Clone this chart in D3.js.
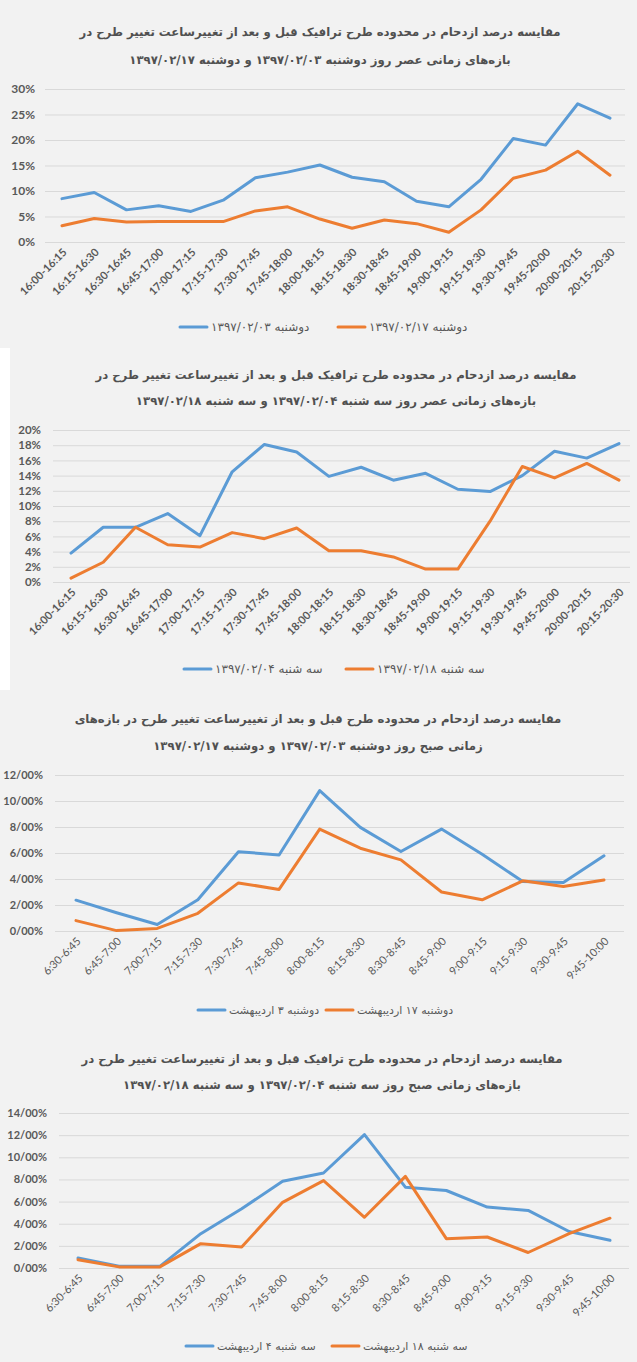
<!DOCTYPE html>
<html lang="fa">
<head>
<meta charset="utf-8">
<title>مقایسه درصد ازدحام</title>
<script src="https://cdn.jsdelivr.net/npm/d3@7"></script>
<style>
  html, body { margin: 0; padding: 0; background: #f2f2f2; }
  svg { display: block; }
  .title { font-family: "DejaVu Sans", sans-serif; font-weight: bold; font-size: 11.7px; fill: #505050; }
  .grid line { stroke: #d9d9d9; stroke-width: 1; }
  .ylab { font-family: Lato, "Open Sans", sans-serif; font-weight: bold; fill: #595959; }
  .xlab { font-family: Lato, "Open Sans", sans-serif; fill: #595959; }
  .legend text { font-family: "DejaVu Sans", sans-serif; fill: #595959; }
  .series { fill: none; stroke-width: 3; stroke-linejoin: round; stroke-linecap: round; }
</style>
</head>
<body>
<svg id="chart" width="637" height="1362"></svg>
<script>
// ---- data (percent values) ----
const eveningSlots = [
  "16:00-16:15", "16:15-16:30", "16:30-16:45", "16:45-17:00", "17:00-17:15", "17:15-17:30",
  "17:30-17:45", "17:45-18:00", "18:00-18:15", "18:15-18:30", "18:30-18:45", "18:45-19:00",
  "19:00-19:15", "19:15-19:30", "19:30-19:45", "19:45-20:00", "20:00-20:15", "20:15-20:30"
];
const morningSlots = [
  "6:30-6:45", "6:45-7:00", "7:00-7:15", "7:15-7:30", "7:30-7:45", "7:45-8:00", "8:00-8:15",
  "8:15-8:30", "8:30-8:45", "8:45-9:00", "9:00-9:15", "9:15-9:30", "9:30-9:45", "9:45-10:00"
];

const monEveningBefore = [8.5, 9.7, 6.3, 7.1, 6.0, 8.2, 12.6, 13.7, 15.1, 12.7, 11.8, 8.0, 6.9, 12.3, 20.3, 19.0, 27.1, 24.3];
const monEveningAfter = [3.2, 4.6, 3.9, 4.0, 4.0, 4.0, 6.1, 6.9, 4.5, 2.7, 4.3, 3.6, 1.9, 6.3, 12.5, 14.1, 17.8, 13.1];
const tueEveningBefore = [3.8, 7.2, 7.2, 9.0, 6.1, 14.5, 18.1, 17.1, 13.9, 15.1, 13.4, 14.3, 12.2, 11.9, 14.0, 17.2, 16.3, 18.2];
const tueEveningAfter = [0.5, 2.6, 7.2, 4.9, 4.6, 6.5, 5.7, 7.1, 4.1, 4.1, 3.3, 1.7, 1.7, 8.0, 15.2, 13.7, 15.6, 13.4];
const monMorningBefore = [2.37, 1.4, 0.5, 2.4, 6.1, 5.85, 10.8, 7.97, 6.12, 7.84, 5.9, 3.8, 3.73, 5.78];
const monMorningAfter = [0.8, 0.03, 0.2, 1.36, 3.7, 3.2, 7.84, 6.37, 5.47, 3.0, 2.4, 3.86, 3.42, 3.93];
const tueMorningBefore = [0.9, 0.15, 0.15, 3.1, 5.36, 7.83, 8.58, 12.05, 7.3, 7.0, 5.5, 5.2, 3.3, 2.5];
const tueMorningAfter = [0.75, 0.1, 0.1, 2.2, 1.9, 5.93, 7.89, 4.58, 8.28, 2.65, 2.8, 1.4, 3.1, 4.5];

const ticksMonEvening = [0, 5, 10, 15, 20, 25, 30];
const ticksTueEvening = [0, 2, 4, 6, 8, 10, 12, 14, 16, 18, 20];
const ticksMonMorning = [0, 2, 4, 6, 8, 10, 12];
const ticksTueMorning = [0, 2, 4, 6, 8, 10, 12, 14];

const titleMonEvening = [
  "مقایسه درصد ازدحام در محدوده طرح ترافیک قبل و بعد از تغییرساعت تغییر طرح در",
  "بازه‌های زمانی عصر روز دوشنبه ۱۳۹۷/۰۲/۰۳ و دوشنبه ۱۳۹۷/۰۲/۱۷"
];
const titleTueEvening = [
  "مقایسه درصد ازدحام در محدوده طرح ترافیک قبل و بعد از تغییرساعت تغییر طرح در",
  "بازه‌های زمانی عصر روز سه شنبه ۱۳۹۷/۰۲/۰۴ و سه شنبه ۱۳۹۷/۰۲/۱۸"
];
const titleMonMorning = [
  "مقایسه درصد ازدحام در محدوده طرح قبل و بعد از تغییرساعت تغییر طرح در بازه‌های",
  "زمانی صبح روز دوشنبه ۱۳۹۷/۰۲/۰۳ و دوشنبه  ۱۳۹۷/۰۲/۱۷"
];
const titleTueMorning = [
  "مقایسه درصد ازدحام در محدوده طرح ترافیک قبل و بعد از تغییرساعت تغییر طرح در",
  "بازه‌های زمانی صبح روز سه شنبه ۱۳۹۷/۰۲/۰۴ و سه شنبه ۱۳۹۷/۰۲/۱۸"
];

const legendMonEvening = ["دوشنبه ۱۳۹۷/۰۲/۰۳", "دوشنبه ۱۳۹۷/۰۲/۱۷"];
const legendTueEvening = ["سه شنبه ۱۳۹۷/۰۲/۰۴", "سه شنبه ۱۳۹۷/۰۲/۱۸"];
const legendMonMorning = ["دوشنبه ۳ اردیبهشت", "دوشنبه ۱۷ اردیبهشت"];
const legendTueMorning = ["سه شنبه ۴ اردیبهشت", "سه شنبه ۱۸ اردیبهشت"];

const seriesColors = ["#5b9bd5", "#ed7d31"];

// ---- layout of the four stacked panels ----
const panels = [
  {
    title: titleMonEvening, slots: eveningSlots, series: [monEveningBefore, monEveningAfter],
    legend: legendMonEvening, ticks: ticksMonEvening, fmt: (d) => d + "%",
    titleY: [32, 60], titleX: 320, yTop: 89, yBottom: 242, labelX: 35,
    grid: [45, 625], points: [62, 610], legendY: 327, swatches: [180, 338],
    yFont: 12, xFont: 11, xBold: true, legendFont: 12
  },
  {
    title: titleTueEvening, slots: eveningSlots, series: [tueEveningBefore, tueEveningAfter],
    legend: legendTueEvening, ticks: ticksTueEvening, fmt: (d) => d + "%",
    titleY: [375, 401], titleX: 336, yTop: 430, yBottom: 582, labelX: 41,
    grid: [53, 630], points: [71, 619], legendY: 669, swatches: [184, 346],
    yFont: 11.5, xFont: 11, xBold: true, legendFont: 12
  },
  {
    title: titleMonMorning, slots: morningSlots, series: [monMorningBefore, monMorningAfter],
    legend: legendMonMorning, ticks: ticksMonMorning, fmt: (d) => d + "/00%",
    titleY: [719, 746], titleX: 318, yTop: 775, yBottom: 931, labelX: 43,
    grid: [55, 624], points: [76, 604], legendY: 1010, swatches: [198, 326],
    yFont: 11, xFont: 11, xBold: false, legendFont: 11
  },
  {
    title: titleTueMorning, slots: morningSlots, series: [tueMorningBefore, tueMorningAfter],
    legend: legendTueMorning, ticks: ticksTueMorning, fmt: (d) => d + "/00%",
    titleY: [1059, 1085], titleX: 322, yTop: 1113, yBottom: 1268, labelX: 47,
    grid: [59, 629], points: [78, 610], legendY: 1346, swatches: [186, 332],
    yFont: 11, xFont: 11, xBold: false, legendFont: 11
  }
];

const svg = d3.select("#chart");

svg.append("rect").attr("width", 637).attr("height", 1362).attr("fill", "#f2f2f2");
// white margin strip left of the second screenshot
svg.append("rect").attr("x", 0).attr("y", 348).attr("width", 10).attr("height", 342).attr("fill", "#ffffff");

/** Draw one panel: title, grid, y labels, slanted x labels, two lines, legend */
function drawPanel(p) {
  const g = svg.append("g");
  const yMax = p.ticks[p.ticks.length - 1];

  const x = d3.scalePoint().domain(p.slots).range(p.points);
  const y = d3.scaleLinear().domain([0, yMax]).range([p.yBottom, p.yTop]);

  // title, two centred rtl lines
  g.selectAll("text.title")
    .data(p.title)
    .join("text")
    .attr("class", "title")
    .attr("direction", "rtl")
    .attr("text-anchor", "middle")
    .attr("x", p.titleX)
    .attr("y", (d, i) => p.titleY[i])
    .attr("dy", "0.35em")
    .text((d) => d);

  // horizontal gridlines + y labels
  const yAxis = d3.axisLeft(y).tickValues(p.ticks).tickSize(-(p.grid[1] - p.grid[0])).tickFormat(p.fmt);
  const ya = g.append("g")
    .attr("class", "grid")
    .attr("transform", `translate(${p.grid[0]},0)`)
    .call(yAxis);
  ya.select(".domain").remove();
  ya.selectAll(".tick text")
    .attr("class", "ylab")
    .attr("x", p.labelX - p.grid[0])
    .attr("font-size", p.yFont);

  // category labels at -45°
  const xAxis = d3.axisBottom(x).tickSize(0);
  const xa = g.append("g")
    .attr("transform", `translate(0,${p.yBottom})`)
    .call(xAxis);
  xa.select(".domain").remove();
  xa.selectAll(".tick text")
    .attr("class", "xlab")
    .attr("font-size", p.xFont)
    .attr("font-weight", p.xBold ? "bold" : "normal")
    .attr("text-anchor", "end")
    .attr("x", 0)
    .attr("y", 0)
    .attr("dy", null)
    .attr("transform", "translate(5,11) rotate(-45)");

  // the two series
  const line = d3.line()
    .x((d, i) => x(p.slots[i]))
    .y((d) => y(d));
  g.selectAll("path.series")
    .data(p.series)
    .join("path")
    .attr("class", "series")
    .attr("stroke", (d, i) => seriesColors[i])
    .attr("d", line);

  // legend: swatch then rtl label to its right
  const lg = g.append("g").attr("class", "legend");
  p.legend.forEach((label, i) => {
    const sx = p.swatches[i];
    lg.append("line")
      .attr("x1", sx).attr("x2", sx + 27)
      .attr("y1", p.legendY).attr("y2", p.legendY)
      .attr("stroke", seriesColors[i])
      .attr("stroke-width", 3)
      .attr("stroke-linecap", "round");
    lg.append("text")
      .attr("direction", "rtl")
      .attr("text-anchor", "end")
      .attr("x", sx + 31)
      .attr("y", p.legendY)
      .attr("dy", "0.35em")
      .attr("font-size", p.legendFont)
      .text(label);
  });
}

panels.forEach(drawPanel);
</script>
</body>
</html>
